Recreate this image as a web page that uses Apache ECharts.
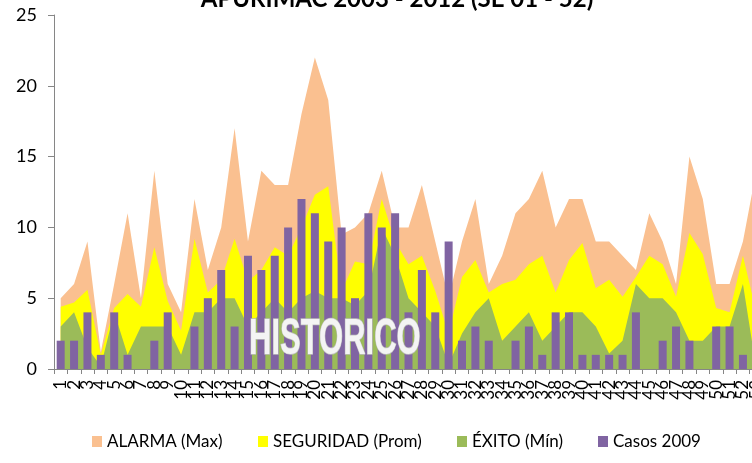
<!DOCTYPE html>
<html><head><meta charset="utf-8">
<script src="https://cdn.jsdelivr.net/npm/echarts@6/dist/echarts.min.js"></script>
<style>html,body{margin:0;padding:0;background:#fff}#c{width:752px;height:463px}</style>
</head><body><div id="c"></div>
<script>
const weeks = ['1','2','3','4','5','6','7','8','9','10','11','12','13','14','15','16','17','18','19','20','21','22','23','24','25','26','27','28','29','30','31','32','33','34','35','36','37','38','39','40','41','42','43','44','45','46','47','48','49','50','51','52','53'];
const alarma = [5,6,9,1.2,6,11,5,14,6,4,12,7,10,17,9,14,13,13,18,22,19,9.5,10,11,14,10,10,13,9,5,9,12,6,8,11,12,14,10,12,12,9,9,8,7,11,9,6,15,12,6,6,9,14];
const seguridad = [4.4,4.7,5.6,1,4.3,5.3,4.4,8.6,4.8,2.7,9.2,5.4,6.3,9.2,6.2,7,8.6,8,10,12.3,12.9,5.5,7.6,7.4,12,9,7.4,8,5.5,2.5,6.5,7.7,5.4,6,6.3,7.4,8,5.4,7.7,8.9,5.7,6.3,5.1,6.5,8,7.4,5.1,9.6,8.1,4.3,4,8,4];
const exito = [3,4,1.5,0.2,4,1,3,3,3,1,4,4,5,5,3,4,5,4,5,5.5,5,5,4.5,5.5,10,8,5,4,3,0.3,2.5,4,5,2,3,4,2,3,4,4,3,1.1,2,6,5,5,4,2,2,3,3,6,0];
const casos2009 = [2,2,4,1,4,1,null,2,4,null,3,5,7,3,8,7,8,10,12,11,9,10,5,11,10,11,4,7,4,9,2,3,2,null,2,3,1,4,4,1,1,1,1,4,null,2,3,2,null,3,3,1,null];
const yTicks = [0,5,10,15,20,25];

const FONT = 'Lato';
const chart = echarts.init(document.getElementById('c'), null, {renderer:'canvas'});
function area(name, data, color, z){
  return {name, type:'line', data, showSymbol:false, symbol:'none', smooth:false, z,
    lineStyle:{width:0, color}, itemStyle:{color}, areaStyle:{color, opacity:1}, silent:true, animation:false};
}
function lg(name, left){
  return {data:[name], left, top:428, icon:'rect', itemWidth:10, itemHeight:11,
    textStyle:{fontFamily:FONT, fontSize:17, color:'#000'}, selectedMode:false};
}
chart.setOption({
  animation:false,
  backgroundColor:'#fff',
  grid:{left:54, right:-11, top:15, bottom:94, containLabel:false, outerBoundsMode:'none'},
  xAxis:{type:'category', data:weeks, boundaryGap:true,
    axisLine:{lineStyle:{color:'#868686', width:1}},
    axisTick:{show:true, length:5, interval:0, lineStyle:{color:'#868686'}},
    axisLabel:{rotate:90, interval:0, fontFamily:FONT, fontSize:17, color:'#000', margin:11}},
  yAxis:{type:'value', min:yTicks[0], max:yTicks[yTicks.length-1], interval:5,
    axisLine:{show:true, lineStyle:{color:'#868686', width:1}},
    axisTick:{show:true, length:6, lineStyle:{color:'#868686'}},
    splitLine:{show:false},
    axisLabel:{fontFamily:FONT, fontSize:18, color:'#000', margin:17}},
  legend:[lg('ALARMA (Max)',87), lg('SEGURIDAD (Prom)',253), lg('ÉXITO (Mín)',452), lg('Casos 2009',593)],
  series:[
    area('ALARMA (Max)', alarma, '#FAC090', 1),
    area('SEGURIDAD (Prom)', seguridad, '#FFFF00', 2),
    area('ÉXITO (Mín)', exito, '#9BBB59', 3),
    {name:'Casos 2009', type:'bar', data:casos2009, barWidth:8, z:5, itemStyle:{color:'#8064A2'}, silent:true}
  ],
  graphic:[
    {type:'text', x:397, y:-1, z:100, style:{text:'APURIMAC 2003 - 2012 (SE 01 - 52)', fontFamily:FONT, fontWeight:'bold', fontSize:24, fill:'#000', align:'center', verticalAlign:'middle'}},
    {type:'text', x:249, y:340, scaleX:0.62, z:100, style:{text:'HISTORICO', fontFamily:'Liberation Sans', fontWeight:'bold', fontSize:50, fill:'#f4f4f4', stroke:'#bdbdbd', lineWidth:1.5, align:'left', verticalAlign:'middle'}}
  ]
});
</script></body></html>
